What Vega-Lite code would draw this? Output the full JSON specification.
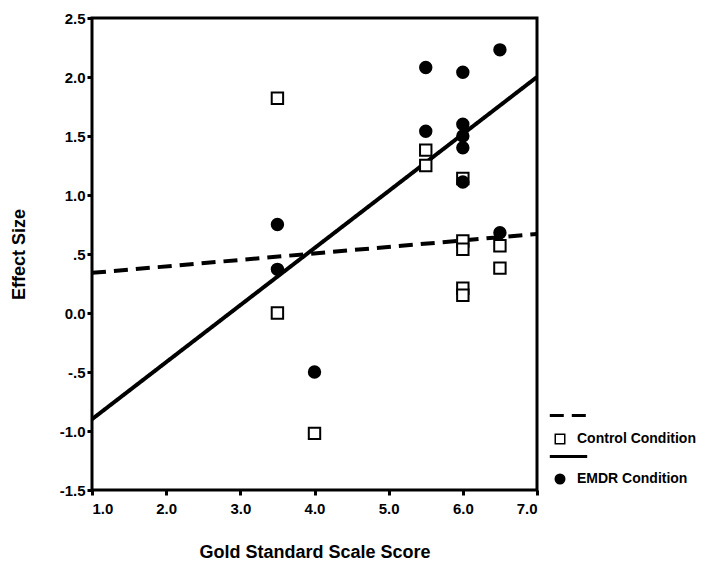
{
  "$schema": "https://vega.github.io/schema/vega-lite/v6.json",
  "width": 445,
  "height": 472,
  "autosize": {"type": "none"},
  "padding": {"left": 92, "top": 18, "right": 180, "bottom": 86},
  "background": "white",
  "config": {
    "font": "Liberation Sans",
    "view": {"stroke": "black", "strokeWidth": 3},
    "axis": {
      "grid": false,
      "domain": false,
      "tickColor": "black",
      "tickWidth": 3,
      "tickSize": 5,
      "labelFont": "Liberation Sans",
      "labelFontWeight": "bold",
      "labelFontSize": 15,
      "labelColor": "black",
      "titleFont": "Liberation Sans",
      "titleFontWeight": "bold",
      "titleFontSize": 18,
      "titleColor": "black"
    },
    "legend": {
      "labelFont": "Liberation Sans",
      "labelFontWeight": "bold",
      "labelFontSize": 14,
      "labelColor": "black"
    }
  },
  "datasets": {
    "pts": [
      {"gold": 3.5, "effect": 1.82, "condition": "Control Condition"},
      {"gold": 3.5, "effect": 0.0, "condition": "Control Condition"},
      {"gold": 4.0, "effect": -1.02, "condition": "Control Condition"},
      {"gold": 5.5, "effect": 1.38, "condition": "Control Condition"},
      {"gold": 5.5, "effect": 1.25, "condition": "Control Condition"},
      {"gold": 6.0, "effect": 1.14, "condition": "Control Condition"},
      {"gold": 6.0, "effect": 0.61, "condition": "Control Condition"},
      {"gold": 6.0, "effect": 0.54, "condition": "Control Condition"},
      {"gold": 6.0, "effect": 0.21, "condition": "Control Condition"},
      {"gold": 6.0, "effect": 0.15, "condition": "Control Condition"},
      {"gold": 6.5, "effect": 0.57, "condition": "Control Condition"},
      {"gold": 6.5, "effect": 0.38, "condition": "Control Condition"},
      {"gold": 3.5, "effect": 0.75, "condition": "EMDR Condition"},
      {"gold": 3.5, "effect": 0.37, "condition": "EMDR Condition"},
      {"gold": 4.0, "effect": -0.5, "condition": "EMDR Condition"},
      {"gold": 5.5, "effect": 2.08, "condition": "EMDR Condition"},
      {"gold": 5.5, "effect": 1.54, "condition": "EMDR Condition"},
      {"gold": 6.0, "effect": 2.04, "condition": "EMDR Condition"},
      {"gold": 6.0, "effect": 1.6, "condition": "EMDR Condition"},
      {"gold": 6.0, "effect": 1.5, "condition": "EMDR Condition"},
      {"gold": 6.0, "effect": 1.4, "condition": "EMDR Condition"},
      {"gold": 6.0, "effect": 1.11, "condition": "EMDR Condition"},
      {"gold": 6.5, "effect": 2.23, "condition": "EMDR Condition"},
      {"gold": 6.5, "effect": 0.68, "condition": "EMDR Condition"}
    ],
    "fits": [
      {"gold": 1.0, "effect": 0.34, "fit": "Control"},
      {"gold": 7.0, "effect": 0.67, "fit": "Control"},
      {"gold": 1.0, "effect": -0.9, "fit": "EMDR"},
      {"gold": 7.0, "effect": 2.0, "fit": "EMDR"}
    ]
  },
  "layer": [
    {
      "data": {"name": "fits"},
      "mark": {"type": "line", "strokeWidth": 4, "color": "black", "clip": true},
      "encoding": {
        "x": {
          "field": "gold", "type": "quantitative",
          "scale": {"domain": [1, 7], "nice": false, "zero": false},
          "axis": {"values": [1, 2, 3, 4, 5, 6, 7], "format": ".1f", "title": "Gold Standard Scale Score", "labelPadding": 6, "titlePadding": 27}
        },
        "y": {
          "field": "effect", "type": "quantitative",
          "scale": {"domain": [-1.5, 2.5], "nice": false, "zero": false},
          "axis": {
            "values": [-1.5, -1, -0.5, 0, 0.5, 1, 1.5, 2, 2.5],
            "labelExpr": "datum.value == 0.5 ? '.5' : datum.value == -0.5 ? '-.5' : (datum.value < 0 ? '-' : '') + format(abs(datum.value), '.1f')",
            "title": "Effect Size",
            "titlePadding": 31
          }
        },
        "strokeDash": {
          "field": "fit", "type": "nominal",
          "scale": {"domain": ["Control", "EMDR"], "range": [[14, 8], [1, 0]]},
          "legend": {
            "title": null,
            "orient": "none",
            "legendX": 456,
            "legendY": 377,
            "symbolType": "stroke",
            "symbolSize": 1400,
            "symbolStrokeWidth": 3,
            "symbolStrokeColor": "black",
            "labelExpr": "''",
            "rowPadding": 13
          }
        },
        "detail": {"field": "fit"}
      }
    },
    {
      "data": {"name": "pts"},
      "mark": {"type": "point", "filled": false, "stroke": "black", "strokeWidth": 2, "size": 130, "opacity": 1},
      "encoding": {
        "x": {"field": "gold", "type": "quantitative"},
        "y": {"field": "effect", "type": "quantitative"},
        "shape": {
          "field": "condition", "type": "nominal",
          "scale": {"domain": ["Control Condition", "EMDR Condition"], "range": ["square", "circle"]},
          "legend": {
            "title": null,
            "orient": "none",
            "legendX": 461,
            "legendY": 414,
            "symbolSize": 90,
            "rowPadding": 24,
            "labelOffset": 10,
            "encode": {"symbols": {"update": {"stroke": {"value": "black"}, "strokeWidth": {"value": 2}}}}
          }
        },
        "fill": {
          "field": "condition", "type": "nominal",
          "scale": {"domain": ["Control Condition", "EMDR Condition"], "range": ["white", "black"]},
          "legend": {
            "title": null,
            "orient": "none",
            "legendX": 461,
            "legendY": 414,
            "symbolSize": 90,
            "rowPadding": 24,
            "labelOffset": 10,
            "encode": {"symbols": {"update": {"stroke": {"value": "black"}, "strokeWidth": {"value": 2}}}}
          }
        }
      }
    }
  ]
}
